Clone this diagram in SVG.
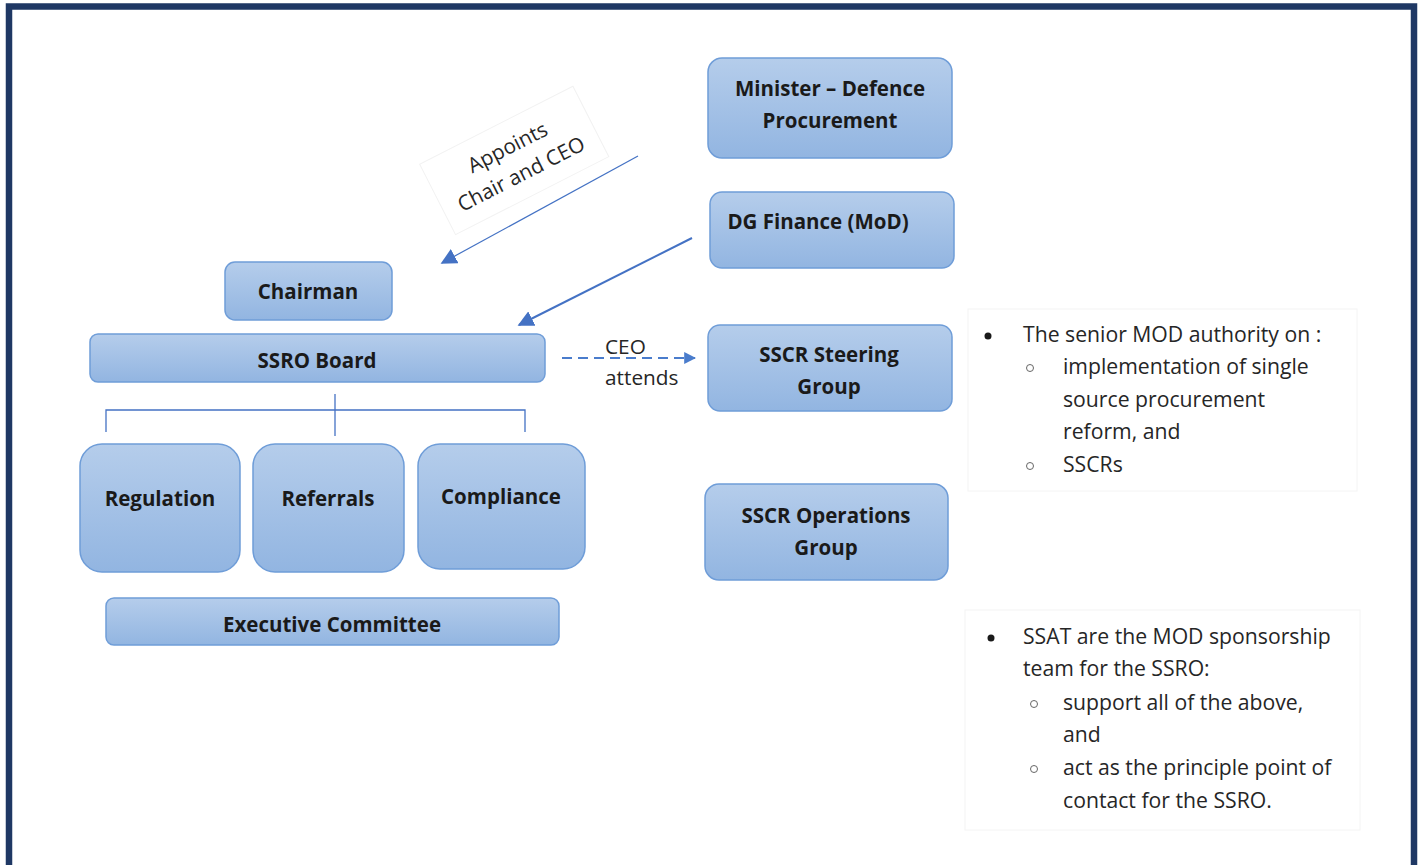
<svg xmlns="http://www.w3.org/2000/svg" width="1421" height="865" viewBox="0 0 1421 865">
<defs>
<linearGradient id="boxg" x1="0" y1="0" x2="0" y2="1">
<stop offset="0" stop-color="#b5cdeb"/>
<stop offset="1" stop-color="#92b5e1"/>
</linearGradient>
<marker id="tri" viewBox="0 0 10 10" refX="9" refY="5" markerWidth="16" markerHeight="16" markerUnits="userSpaceOnUse" orient="auto">
<path d="M0,0 L10,5 L0,10 Z" fill="#4472c4"/>
</marker>
<marker id="tri2" viewBox="0 0 10 10" refX="9" refY="5" markerWidth="12" markerHeight="12" markerUnits="userSpaceOnUse" orient="auto">
<path d="M0,0 L10,5 L0,10 Z" fill="#4a7ccc"/>
</marker>
</defs>
<style>
.box{fill:url(#boxg);stroke:#6f9dd8;stroke-width:1.5}
.bt{font-family:"Open Sans","Liberation Sans",sans-serif;font-weight:bold;font-size:20.5px;fill:#1a1a1a;text-anchor:middle}
.pt{font-family:"Open Sans","Liberation Sans",sans-serif;font-size:21.2px;fill:#262626}
.lbl{font-family:"Open Sans","Liberation Sans",sans-serif;font-size:20.8px;fill:#262626}
.ln{stroke:#4472c4;fill:none}
.panel{fill:#ffffff;stroke:#f4f4f4;stroke-width:1}
</style>
<rect x="0" y="0" width="1421" height="865" fill="#ffffff"/>
<rect x="9" y="6.5" width="1405" height="890" fill="#ffffff" stroke="#1f3864" stroke-width="6.5"/>

<g id="label-appoints" transform="translate(514,160) rotate(-27)">
<rect x="-86" y="-39" width="172" height="79" fill="#ffffff" stroke="#f2f2f2" stroke-width="1"/>
<text class="lbl" text-anchor="middle" x="0" y="-7">Appoints</text>
<text class="lbl" text-anchor="middle" x="0" y="23">Chair and CEO</text>
</g>

<g id="connectors">
<path class="ln" d="M335,394 L335,436" stroke-width="1.3"/>
<path class="ln" d="M106,432 L106,410 L525,410 L525,432" stroke-width="1.3"/>
<path class="ln" d="M638,156 L442,263" stroke-width="1.2" marker-end="url(#tri)"/>
<path class="ln" d="M692,238 L519,325" stroke-width="2" marker-end="url(#tri)"/>
<path d="M562,358 L695,358" stroke="#4a7ccc" stroke-width="2" stroke-dasharray="10,6" fill="none" marker-end="url(#tri2)"/>
</g>

<g id="label-ceo">
<text class="lbl" x="605" y="354">CEO</text>
<text class="lbl" x="605" y="385">attends</text>
</g>

<g id="minister">
<rect class="box" x="708" y="58" width="244" height="100" rx="14"/>
<text class="bt" x="830" y="96">Minister – Defence</text>
<text class="bt" x="830" y="128">Procurement</text>
</g>
<g id="dg-finance">
<rect class="box" x="710" y="192" width="244" height="76" rx="12"/>
<text class="bt" x="818" y="229">DG Finance (MoD)</text>
</g>
<g id="chairman">
<rect class="box" x="225" y="262" width="167" height="58" rx="10"/>
<text class="bt" x="308" y="299">Chairman</text>
</g>
<g id="ssro-board">
<rect class="box" x="90" y="334" width="455" height="48" rx="8"/>
<text class="bt" x="317" y="368">SSRO Board</text>
</g>
<g id="sscr-steering">
<rect class="box" x="708" y="325" width="244" height="86" rx="12"/>
<text class="bt" x="829" y="362">SSCR Steering</text>
<text class="bt" x="829" y="394">Group</text>
</g>
<g id="sscr-operations">
<rect class="box" x="705" y="484" width="243" height="96" rx="14"/>
<text class="bt" x="826" y="523">SSCR Operations</text>
<text class="bt" x="826" y="555">Group</text>
</g>
<g id="regulation">
<rect class="box" x="80" y="444" width="160" height="128" rx="22"/>
<text class="bt" x="160" y="506">Regulation</text>
</g>
<g id="referrals">
<rect class="box" x="253" y="444" width="151" height="128" rx="22"/>
<text class="bt" x="328" y="506">Referrals</text>
</g>
<g id="compliance">
<rect class="box" x="418" y="444" width="167" height="125" rx="22"/>
<text class="bt" x="501" y="504">Compliance</text>
</g>
<g id="executive-committee">
<rect class="box" x="106" y="598" width="453" height="47" rx="8"/>
<text class="bt" x="332" y="632">Executive Committee</text>
</g>

<g id="panel-1">
<rect class="panel" x="968" y="309" width="389" height="182"/>
<circle cx="988" cy="336" r="3.5" fill="#1a1a1a"/>
<text class="pt" x="1023" y="342">The senior MOD authority on :</text>
<circle cx="1030" cy="368" r="3.5" fill="none" stroke="#666" stroke-width="1"/>
<text class="pt" x="1063" y="374">implementation of single</text>
<text class="pt" x="1063" y="407">source procurement</text>
<text class="pt" x="1063" y="439">reform, and</text>
<circle cx="1030" cy="466" r="3.5" fill="none" stroke="#666" stroke-width="1"/>
<text class="pt" x="1063" y="472">SSCRs</text>
</g>

<g id="panel-2">
<rect class="panel" x="965" y="610" width="395" height="220"/>
<circle cx="991" cy="638" r="3.5" fill="#1a1a1a"/>
<text class="pt" x="1023" y="644">SSAT are the MOD sponsorship</text>
<text class="pt" x="1023" y="676">team for the SSRO:</text>
<circle cx="1034" cy="704" r="3.5" fill="none" stroke="#666" stroke-width="1"/>
<text class="pt" x="1063" y="710">support all of the above,</text>
<text class="pt" x="1063" y="742">and</text>
<circle cx="1034" cy="769" r="3.5" fill="none" stroke="#666" stroke-width="1"/>
<text class="pt" x="1063" y="775">act as the principle point of</text>
<text class="pt" x="1063" y="808">contact for the SSRO.</text>
</g>
</svg>
